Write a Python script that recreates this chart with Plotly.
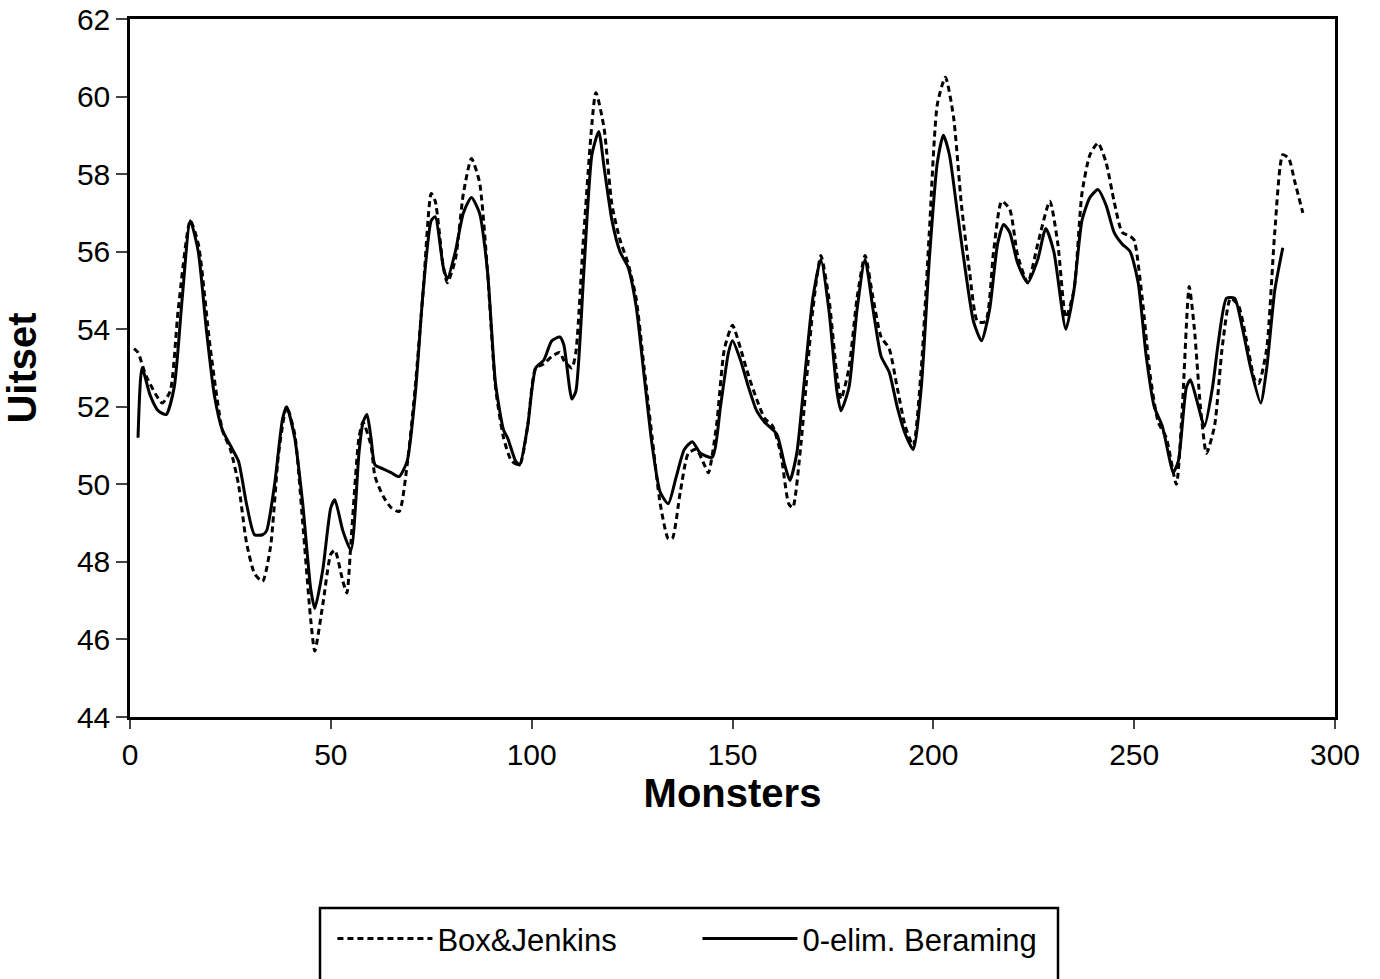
import plotly.graph_objects as go

# Box&Jenkins (dashed) - month index and value
bj_t = [1, 2, 4, 8, 10, 12, 15, 17, 20, 23, 25, 27, 29, 31, 33, 35, 37, 39, 41, 43, 45, 46, 48, 50, 51, 53, 54, 55, 57, 58,
        60, 61, 63, 65, 67, 69, 71, 73, 75, 76, 78, 79, 81, 83, 85, 87, 89, 91, 93, 95, 97, 99, 101, 103, 105, 107, 108, 110, 111, 113,
        116, 118, 120, 122, 124, 126, 128, 130, 132, 134, 135, 137, 139, 141, 143, 144, 146, 148, 150, 152, 154, 156, 158, 160, 162, 164, 165, 167, 170, 172,
        174, 176, 177, 179, 181, 183, 185, 187, 189, 191, 193, 195, 197, 199, 201, 203, 205, 207, 209, 211, 213, 215, 217, 219, 221, 223.5, 226, 229, 231, 233,
        235, 237, 239, 241, 243, 245, 247, 249, 250, 252, 254, 256, 258, 260.5, 262, 263.7, 265, 266.5, 268, 270, 272, 274, 276, 278, 280, 281, 283, 285, 287, 288.5, 290, 292]
bj_v = [53.5, 53.4, 52.8, 52.1, 52.4, 54.5, 56.8, 56.2, 53.5, 51.4, 50.9, 50.0, 48.5, 47.7, 47.5, 48.4, 50.8, 52.0, 51.3, 49.0, 46.5, 45.7, 46.9, 48.2, 48.3, 47.5, 47.2, 48.5, 51.2, 51.6,
        51.0, 50.2, 49.7, 49.4, 49.3, 50.5, 52.5, 55.0, 57.5, 57.3, 55.6, 55.2, 55.8, 57.5, 58.4, 57.8, 55.5, 52.5, 51.2, 50.6, 50.5, 51.5, 53.0, 53.1, 53.3, 53.4, 53.2, 53.0, 53.4, 56.5,
        60.1, 59.2, 57.2, 56.3, 55.7, 54.8, 53.0, 51.2, 49.5, 48.6, 48.6, 49.8, 50.8, 50.9, 50.5, 50.3, 51.5, 53.5, 54.1, 53.5, 52.8, 52.2, 51.7, 51.5, 50.8, 49.5, 49.4, 51.0, 54.5, 55.9,
        54.8, 52.8, 52.2, 53.0, 54.8, 55.9, 54.8, 53.8, 53.5, 52.5, 51.5, 51.0, 53.0, 56.5, 59.8, 60.5, 59.5, 57.2, 55.5, 54.2, 54.2, 56.0, 57.3, 57.1, 55.9, 55.2, 56.2, 57.3, 56.2, 54.3,
        55.0, 57.5, 58.5, 58.8, 58.3, 57.3, 56.5, 56.4, 56.3, 54.8, 52.8, 51.6, 51.2, 50.0, 52.0, 55.1, 54.0, 52.0, 50.8, 51.5, 53.6, 54.8, 54.6, 53.7, 52.7, 52.6, 53.5, 56.5, 58.5, 58.4, 57.8, 57.0]

# 0-elim. Beraming (solid)
oe_t = [2, 3, 5, 7, 9, 11, 13, 15, 17, 19, 21, 23, 25, 27, 29, 31, 33, 34, 36, 38, 39, 41, 43, 45, 46, 48, 50, 51, 53, 55,
        57, 58, 59, 60, 61, 63, 65, 67, 69, 71, 73, 75, 76, 78, 79, 81, 83, 85, 87, 89, 91, 93, 94, 96, 97, 99, 101, 103, 105, 107,
        108, 110, 111, 113, 115, 116.7, 118, 120, 122, 124, 126, 128, 130, 132, 134, 136, 138, 140, 142, 145, 147, 149, 150, 152, 154, 156, 158, 161, 163, 164.3,
        166, 168, 170, 172, 174, 176, 177, 179, 181, 183, 185, 187, 189, 191, 193, 195, 197, 199, 201, 202.5, 204, 206, 208, 210, 212, 214, 216, 217.5, 219, 221,
        223.5, 226, 228, 230, 233, 235, 237, 239, 241, 243, 245, 247, 249, 251, 253, 255, 257, 258.5, 259.7, 261, 263, 264, 265.5, 267.5, 269.5, 271, 273, 275, 277, 279,
        281.5, 283, 285, 287]
oe_v = [51.2, 53.0, 52.3, 51.9, 51.8, 52.5, 54.8, 56.8, 56.0, 54.0, 52.3, 51.4, 51.0, 50.6, 49.5, 48.7, 48.7, 48.8, 50.0, 51.7, 52.0, 51.2, 49.5, 47.3, 46.8, 47.8, 49.4, 49.6, 48.8, 48.3,
        50.8, 51.6, 51.8, 51.2, 50.5, 50.4, 50.3, 50.2, 50.6, 52.3, 55.0, 56.8, 56.9, 55.6, 55.3, 56.0, 57.0, 57.4, 57.0, 55.5, 52.6, 51.4, 51.2, 50.6, 50.5, 51.5, 53.0, 53.2, 53.7, 53.8,
        53.6, 52.2, 52.4, 55.5, 58.5, 59.1, 58.2, 56.8, 56.0, 55.6, 54.6, 52.8, 51.0, 49.8, 49.5, 50.2, 50.9, 51.1, 50.8, 50.7, 52.0, 53.4, 53.7, 53.2, 52.5, 51.9, 51.6, 51.3, 50.5, 50.1,
        50.8, 52.8, 54.8, 55.8, 54.5, 52.4, 51.9, 52.5, 54.5, 55.8, 54.5, 53.3, 52.9, 52.0, 51.3, 50.9, 52.5, 55.8, 58.3, 59.0, 58.5, 57.0, 55.5, 54.2, 53.7, 54.5, 56.2, 56.7, 56.5, 55.7,
        55.2, 55.8, 56.6, 56.0, 54.0, 55.0, 56.8, 57.4, 57.6, 57.2, 56.5, 56.2, 56.0, 55.2, 53.3, 52.0, 51.5, 50.8, 50.3, 50.6, 52.5, 52.7, 52.2, 51.5, 52.5, 53.7, 54.8, 54.8, 54.0, 53.0,
        52.1, 53.0, 55.0, 56.1]

x_ticks = [0, 50, 100, 150, 200, 250, 300]
y_ticks = [44, 46, 48, 50, 52, 54, 56, 58, 60, 62]

FONT = "Liberation Sans, Arial, sans-serif"

fig = go.Figure()
fig.add_trace(go.Scatter(x=bj_t, y=bj_v, mode="lines", name="Box&Jenkins",
                         line=dict(color="black", width=3, dash="6px,4px", shape="spline", smoothing=0.6)))
fig.add_trace(go.Scatter(x=oe_t, y=oe_v, mode="lines", name="0-elim. Beraming",
                         line=dict(color="black", width=3, shape="spline", smoothing=0.6)))

fig.update_layout(
    width=1380, height=979,
    margin=dict(l=130, r=45, t=19, b=262),
    paper_bgcolor="white", plot_bgcolor="white",
    font=dict(family=FONT, color="black", size=30),
    showlegend=True,
    legend=dict(orientation="h", x=0.168, y=-0.318, xanchor="left", yanchor="middle",
                font=dict(size=31, family=FONT), entrywidth=255, entrywidthmode="pixels",
                itemwidth=95, bgcolor="rgba(0,0,0,0)", borderwidth=0),
    xaxis=dict(range=[0, 300], tickvals=x_ticks, ticks="outside", ticklen=9, tickwidth=2,
               showline=True, linecolor="black", linewidth=2.5, mirror=True, showgrid=False, zeroline=False,
               automargin=False,
               title=dict(text="<b>Monsters</b>", font=dict(size=40, family=FONT), standoff=10),
               tickfont=dict(size=30)),
    yaxis=dict(range=[44, 62], tickvals=y_ticks, ticks="outside", ticklen=11, tickwidth=2,
               showline=True, linecolor="black", linewidth=2.5, mirror=True, showgrid=False, zeroline=False,
               automargin=False,
               title=dict(text="<b>Uitset</b>", font=dict(size=40, family=FONT), standoff=28),
               tickfont=dict(size=30)),
)

# legend frame (extends below the page like the reference)
fig.add_shape(type="rect", xref="paper", yref="paper",
              x0=(320 - 130) / 1205, x1=(1058 - 130) / 1205,
              y0=(717 - 908) / 698, y1=(717 - 1000) / 698,
              line=dict(color="black", width=2.5), fillcolor="rgba(0,0,0,0)")

fig.write_html("out.html")
